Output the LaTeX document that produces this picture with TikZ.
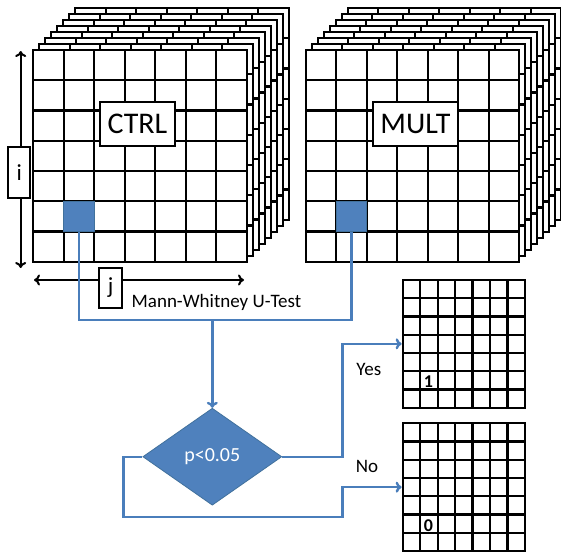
\documentclass[tikz,border=0pt]{standalone}
\usepackage{fontspec}
\setmainfont{Carlito}
\usetikzlibrary{shapes.geometric,arrows.meta}
\definecolor{cellblue}{HTML}{4F81BD}
\definecolor{cellborder}{HTML}{41719C}
\definecolor{flowblue}{HTML}{4A7EBB}
\tikzset{
  gridline/.style={line width=2.2pt, black},
  pics/cellgrid/.style n args={2}{code={
    \draw[gridline, fill=white] (0,0) rectangle (#1,#2);
    \foreach \k in {1,...,6}{
      \draw[gridline] ({\k*#1/7},0) -- ({\k*#1/7},#2);
      \draw[gridline] (0,{\k*#2/7}) -- (#1,{\k*#2/7});
    }
  }},
  hit/.style={fill=cellblue, draw=cellborder, line width=0.8pt,
    minimum width=30.5pt, minimum height=30.2pt, inner sep=0pt},
  labelbox/.style={draw, fill=white, line width=2pt, inner sep=0pt},
  bigfont/.style={font=\fontsize{30}{31}\selectfont},
  axisfont/.style={font=\fontsize{23}{25}\selectfont},
  caption/.style={font=\fontsize{19}{21}\selectfont},
  flow/.style={draw=flowblue, line width=2.4pt},
  flowarrow/.style={flow, -{To[length=6pt,width=11pt]}},
  dimarrow/.style={line width=2pt, {To[length=6pt,width=11pt]}-{To[length=6pt,width=11pt]}},
  decision/.style={diamond, aspect=1.43, fill=cellblue, draw=cellborder,
    line width=0.8pt, minimum width=139pt, minimum height=97pt, inner sep=0pt,
    text=white, font=\fontsize{20}{22}\selectfont},
  outgrid/.style={draw, line width=2.2pt, fill=white,
    minimum width=122.3pt, minimum height=127.7pt, inner sep=0pt},
  digit/.style={font=\bfseries\fontsize{18}{20}\selectfont, inner sep=0pt}
}
\begin{document}
\begin{tikzpicture}[x=1pt, y=-1pt]
\useasboundingbox (0,0) rectangle (561,554);

% stacked CTRL layers, back to front
\foreach \k in {7,...,1}
  \pic at ({33.3+6*\k},{50-6*\k}) {cellgrid={213.4}{211.7}};
\pic at (33.3,50) {cellgrid={213.4}{211.7}};

% stacked MULT layers, back to front
\foreach \k in {7,...,1}
  \pic at ({305.7+6*\k},{50-6*\k}) {cellgrid={213.4}{211.7}};
\pic at (305.7,50) {cellgrid={213.4}{211.7}};

% selected voxel in each set
\node[hit] (ctrlcell) at (79.0,216.3) {};
\node[hit] (multcell) at (351.4,216.3) {};

% set labels
\node[labelbox, bigfont, minimum width=75pt, minimum height=44pt] (ctrl) at (137.5,124) {CTRL};
\node[labelbox, bigfont, minimum width=85pt, minimum height=44pt] (mult) at (415.4,124) {MULT};

% index axes
\coordinate (itop) at (20.7,51);
\coordinate (ibot) at (20.7,268);
\draw[dimarrow] (itop) -- (ibot);
\node[labelbox, axisfont, minimum width=21.7pt, minimum height=51.6pt] (ibox) at (19.2,172.5) {i};
\coordinate (jleft) at (34,280);
\coordinate (jright) at (244,280);
\draw[dimarrow] (jleft) -- (jright);
\node[labelbox, axisfont, minimum width=22.7pt, minimum height=40pt] (jbox) at (110.5,288) {j};

% statistical test
\node[caption, anchor=west, inner sep=0pt] (utest) at (131.5,302) {Mann-Whitney U-Test};
\coordinate (split) at (212.3,320);
\draw[flow] (ctrlcell.south) |- (split) -| (multcell.south);
\node[decision] (test) at (212.3,456.7) {p<0.05};
\draw[flowarrow] (split) -- (test.north);

% result maps
\node[outgrid] (yesgrid) at (463.85,343.85) {};
\pic at (402.7,280) {cellgrid={122.3}{127.7}};
\node[outgrid] (nogrid) at (463.85,487.15) {};
\pic at (402.7,423.3) {cellgrid={122.3}{127.7}};
\node[digit] (one) at (428.5,382) {1};
\node[digit] (zero) at (428.5,526) {0};

% branches
\coordinate (yesbend) at (342.3,456.7);
\draw[flowarrow] (test.east) -- (yesbend) |- (yesgrid.west);
\coordinate (noleft) at (123.3,516.7);
\coordinate (nobend) at (342.3,516.7);
\draw[flowarrow] (test.west) -| (noleft) -- (nobend) |- (nogrid.west);
\node[caption] (yes) at (368.8,369) {Yes};
\node[caption] (no) at (367,466.7) {No};
\end{tikzpicture}
\end{document}
